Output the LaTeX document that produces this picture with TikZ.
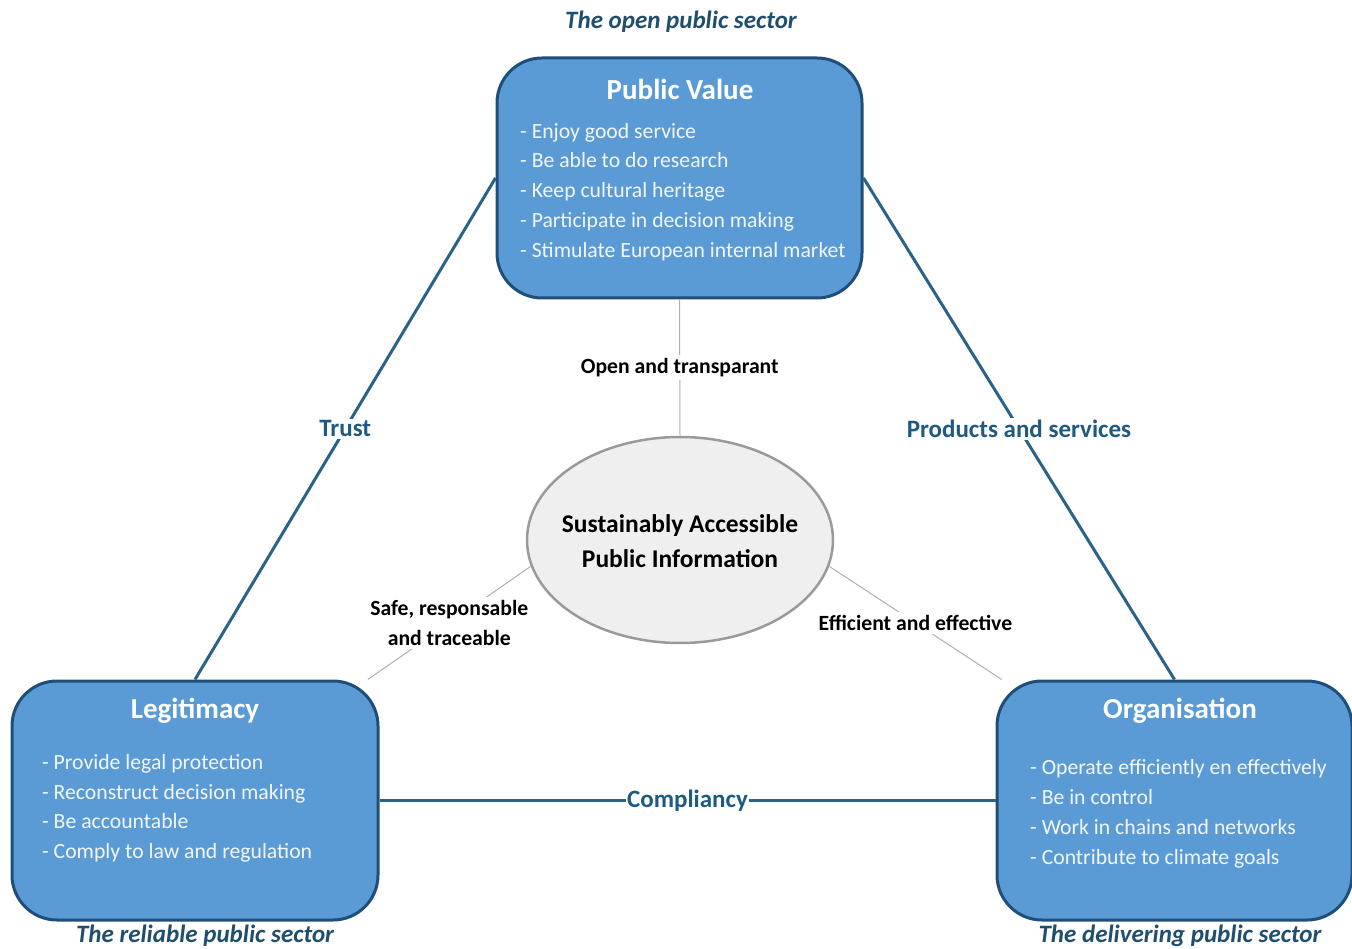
\documentclass[tikz,border=0pt]{standalone}
\usepackage{fontspec}
\setmainfont{Carlito}
\usetikzlibrary{shapes.geometric}
\definecolor{boxfill}{HTML}{5B9BD5}
\definecolor{boxline}{HTML}{1F4E79}
\definecolor{conn}{HTML}{2A6288}
\definecolor{lab}{HTML}{1F5A80}
\definecolor{capc}{HTML}{1F4E6E}
\definecolor{ellfill}{HTML}{EFEFEF}
\definecolor{ellline}{HTML}{9A9A9A}
\definecolor{itemc}{HTML}{F2F6FB}
\begin{document}
\begin{tikzpicture}[x=1pt,y=-1pt,
  bigbox/.style={draw=boxline, line width=3pt, fill=boxfill, rounded corners=45pt, inner sep=0pt},
  boxtitle/.style={text=white, font=\fontsize{29}{32}\selectfont\bfseries, inner sep=0pt},
  item/.style={text=itemc, font=\fontsize{21.7}{26}\selectfont, anchor=west, inner sep=0pt, text height=15pt, text depth=4pt},
  capt/.style={text=capc, font=\fontsize{25}{29}\selectfont\bfseries\itshape, inner sep=0pt},
  mainconn/.style={draw=conn, line width=3pt},
  mainlab/.style={text=lab, font=\fontsize{25}{28}\selectfont\bfseries, fill=white, inner sep=2pt},
  thinconn/.style={draw=ellline!80, line width=1pt},
  thinlab/.style={text=black, font=\fontsize{21.7}{30}\selectfont\bfseries, fill=white, inner sep=3pt, align=center},
  hub/.style={ellipse, draw=ellline, line width=2.5pt, fill=ellfill, minimum width=306pt, minimum height=206pt, inner sep=0pt},
  hubtext/.style={align=center, inner sep=0pt, font=\fontsize{25.5}{35}\selectfont\bfseries}
]
\useasboundingbox (0,0) rectangle (1352,949);

% boxes
\node[bigbox, minimum width=365pt, minimum height=240pt] (pv) at (679.5,178) {};
\node[bigbox, minimum width=366pt, minimum height=239pt] (leg) at (195,800.5) {};
\node[bigbox, minimum width=355pt, minimum height=239pt] (org) at (1174.5,800.5) {};
\node[hub] (sapi) at (680,540) {};
\node[hubtext] (sapit) at (680,541) {Sustainably Accessible\\Public Information};

% main connectors
\draw[mainconn] (pv.west) -- node[mainlab, pos=0.5] (ltrust) {Trust} (leg.north);
\draw[mainconn] (pv.east) -- node[mainlab, pos=0.5] (lprod) {Products and services} (org.north);
\draw[mainconn] (leg.east) -- node[mainlab, pos=0.5, inner sep=1pt] (lcomp) {Compliancy} (org.west);

% thin connectors
\draw[thinconn] (pv.south) -- node[thinlab, pos=0.5] (lopen) {Open and transparant} (sapi.north);
\draw[thinconn] (sapi.190) -- node[thinlab, pos=0.5] (lsafe) {Safe, responsable\\and traceable} (leg.35);
\draw[thinconn] (sapi.350) -- node[thinlab, pos=0.5] (leff) {Efficient and effective} (org.145);

% titles
\node[boxtitle] (pvt) at (680,89) {Public Value};
\node[boxtitle] (legt) at (195,711) {Legitimacy};
\node[boxtitle] (orgt) at (1180,711) {Organisation};

% items
\node[item] (pv1) at (520,133) {- Enjoy good service};
\node[item] (pv2) at (520,162) {- Be able to do research};
\node[item] (pv3) at (520,192) {- Keep cultural heritage};
\node[item] (pv4) at (520,222) {- Participate in decision making};
\node[item] (pv5) at (520,252) {- Stimulate European internal market};

\node[item] (lg1) at (42,764) {- Provide legal protection};
\node[item] (lg2) at (42,794) {- Reconstruct decision making};
\node[item] (lg3) at (42,823) {- Be accountable};
\node[item] (lg4) at (42,853) {- Comply to law and regulation};

\node[item] (og1) at (1030,769) {- Operate efficiently en effectively};
\node[item] (og2) at (1030,799) {- Be in control};
\node[item] (og3) at (1030,829) {- Work in chains and networks};
\node[item] (og4) at (1030,859) {- Contribute to climate goals};

% captions
\node[capt] (c1) at (681,22) {The open public sector};
\node[capt] (c2) at (205,936) {The reliable public sector};
\node[capt] (c3) at (1180,936) {The delivering public sector};
\end{tikzpicture}
\end{document}
